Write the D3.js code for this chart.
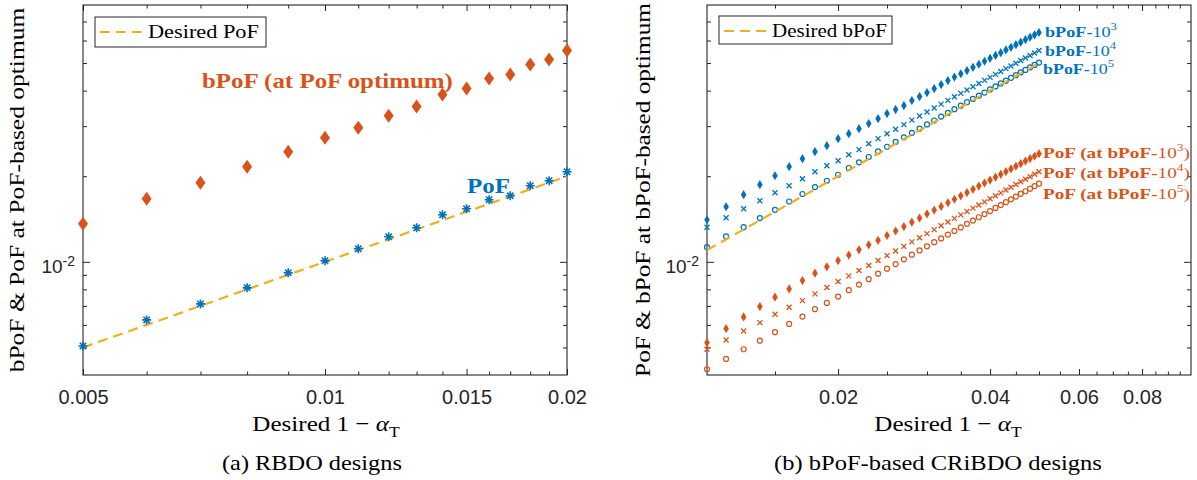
<!DOCTYPE html>
<html><head><meta charset="utf-8">
<script src="https://cdn.jsdelivr.net/npm/d3@7/dist/d3.min.js"></script>
<style>html,body{margin:0;padding:0;background:#fff}svg{display:block}</style>
</head><body>
<svg id="chart" width="1197" height="480"></svg>
<script>
// ---------------- DATA ----------------
const xLeft = [0.005,0.006,0.007,0.008,0.009,0.010,0.011,0.012,0.013,0.014,0.015,0.016,0.017,0.018,0.019,0.020];
const pofLeft = [0.005061,0.006249,0.007114,0.008100,0.009147,0.010081,0.011111,0.012246,0.013174,0.014639,0.015367,0.016533,0.017076,0.018518,0.019287,0.020744];
const bpofLeft = [0.013609,0.016666,0.018976,0.021600,0.024395,0.027333,0.029635,0.032665,0.035136,0.038726,0.040663,0.044104,0.045560,0.049398,0.051444,0.055334];
const desiredPoFX = [0.005,0.020];
const desiredPoFY = [0.005,0.020];

const xRight = [0.011,0.012,0.013,0.014,0.015,0.016,0.017,0.018,0.019,0.020,
  0.021,0.022,0.023,0.024,0.025,0.026,0.027,0.028,0.029,0.030,
  0.031,0.032,0.033,0.034,0.035,0.036,0.037,0.038,0.039,0.040,
  0.041,0.042,0.043,0.044,0.045,0.046,0.047,0.048,0.049,0.050];
const bpof1e3 = [0.01406,0.01562,0.01722,0.01867,0.02008,0.02160,0.02305,0.02439,0.02562,0.02711,
  0.02823,0.02940,0.03062,0.03188,0.03320,0.03430,0.03543,0.03689,0.03811,0.03937,
  0.04067,0.04201,0.04339,0.04463,0.04585,0.04705,0.04828,0.04951,0.05074,0.05194,
  0.05317,0.05440,0.05560,0.05678,0.05800,0.05922,0.06044,0.06163,0.06284,0.06402];
const bpof1e4 = [0.01323,0.01429,0.01537,0.01640,0.01750,0.01852,0.01960,0.02074,0.02178,0.02268,
  0.02381,0.02480,0.02603,0.02711,0.02821,0.02926,0.03037,0.03149,0.03258,0.03366,
  0.03477,0.03586,0.03695,0.03805,0.03911,0.04020,0.04129,0.04238,0.04345,0.04452,
  0.04562,0.04671,0.04778,0.04883,0.04991,0.05102,0.05211,0.05317,0.05426,0.05533];
const bpof1e5 = [0.01126,0.01228,0.01324,0.01425,0.01524,0.01630,0.01732,0.01832,0.01928,0.02024,
  0.02138,0.02238,0.02337,0.02445,0.02539,0.02640,0.02740,0.02841,0.02940,0.03042,
  0.03140,0.03242,0.03340,0.03441,0.03540,0.03641,0.03739,0.03840,0.03938,0.04039,
  0.04137,0.04238,0.04335,0.04436,0.04533,0.04634,0.04731,0.04827,0.04924,0.05020];
const pof1e3 = [0.005196,0.005822,0.006402,0.006961,0.007512,0.008033,0.008594,0.009126,0.009603,0.010106,
  0.010558,0.011022,0.011477,0.011903,0.012375,0.012836,0.013301,0.013785,0.014253,0.014733,
  0.015205,0.015657,0.016133,0.016599,0.017061,0.017526,0.017985,0.018459,0.018929,0.019378,
  0.019838,0.020309,0.020763,0.021222,0.021691,0.022150,0.022604,0.023067,0.023523,0.024004];
const pof1e4 = [0.004927,0.005314,0.005715,0.006113,0.006543,0.006927,0.007306,0.007714,0.008119,0.008523,
  0.008927,0.009320,0.009705,0.010106,0.010516,0.010914,0.011331,0.011751,0.012158,0.012568,
  0.012982,0.013390,0.013797,0.014216,0.014625,0.015035,0.015442,0.015849,0.016251,0.016665,
  0.017076,0.017482,0.017885,0.018294,0.018699,0.019112,0.019503,0.019920,0.020328,0.020744];
const pof1e5 = [0.004190,0.004555,0.004927,0.005283,0.005656,0.006049,0.006418,0.006816,0.007171,0.007548,
  0.007951,0.008320,0.008692,0.009089,0.009464,0.009823,0.010205,0.010593,0.010968,0.011340,
  0.011722,0.012090,0.012468,0.012846,0.013217,0.013599,0.013967,0.014345,0.014723,0.015083,
  0.015467,0.015835,0.016214,0.016584,0.016966,0.017342,0.017709,0.018088,0.018459,0.018821];
const desiredBPoFX = [0.011,0.050];
const desiredBPoFY = [0.011,0.050];

const xMajorLeft = [0.005,0.01,0.015,0.02];
const xLabelsLeft = ["0.005","0.01","0.015","0.02"];
const xMinorLeft = [0.006,0.007,0.008,0.009,0.011,0.012,0.013,0.014,0.016,0.017,0.018,0.019];
const xMajorRight = [0.02,0.04,0.06,0.08];
const xLabelsRight = ["0.02","0.04","0.06","0.08"];
const xMinorRight = [0.015,0.025,0.03,0.035,0.045,0.05,0.055,0.065,0.07,0.075,0.085,0.09,0.095];
const yMajor = [0.01];
const yLabelBase = ["10"];
const yLabelExp = ["-2"];
const yMinor = [0.005,0.006,0.007,0.008,0.009,0.02,0.03,0.04,0.05,0.06,0.07];

// ---------------- STYLE ----------------
const SERIF = "'Liberation Serif','Times New Roman',serif";
const SANS = "'Liberation Sans',Arial,Helvetica,sans-serif";
const BLUE = '#0072BD', ORANGE = '#D95319', YELLOW = '#EDB120', AXIS = '#262626';
const svg = d3.select('#chart');

function label(parent, x, y, parts, o) {
  const g = parent.append('g').attr('transform', `translate(${x},${y})` + (o.rotate ? ` rotate(${o.rotate})` : ''));
  const s = g.append('g');
  const t = s.append('text').attr('font-family', o.family || SERIF).attr('font-size', o.size)
    .attr('fill', o.color || '#000').attr('text-anchor', o.anchor || 'start').style('white-space', 'pre');
  let shift = 0;
  parts.forEach(p => {
    const sp = t.append('tspan').text(p.t);
    if (p.bold) sp.attr('font-weight', 'bold');
    if (p.italic) sp.attr('font-style', 'italic');
    const want = p.sup ? -o.size * 0.42 : p.sub ? o.size * 0.25 : 0;
    if (want !== shift) { sp.attr('dy', want - shift); shift = want; }
    if (p.sup || p.sub) sp.attr('font-size', o.size * 0.7);
  });
  if (o.width) {
    const w = t.node().getBBox().width;
    s.attr('transform', `scale(${o.width / w},1)`);
  }
  return g;
}

function diamondPath(w, h) { return `M0,${-h}L${w},0L0,${h}L${-w},0Z`; }
function starPath(r) { const a = r * 0.7071; return `M0,${-r}V${r}M${-r},0H${r}M${-a},${-a}L${a},${a}M${-a},${a}L${a},${-a}`; }
function crossPath(r) { return `M${-r},${-r}L${r},${r}M${-r},${r}L${r},${-r}`; }

function panel(o) {
  const g = svg.append('g');
  const x = d3.scaleLog().domain(o.xDomain).range([o.x0, o.x1]);
  const y = d3.scaleLog().domain([0.004, 0.08]).range([o.y1, o.y0]);
  const style = sel => {
    sel.select('.domain').remove();
    sel.selectAll('line').attr('stroke', AXIS).attr('stroke-width', 1);
    sel.selectAll('text').attr('fill', AXIS).attr('font-family', SANS).attr('font-size', 20);
  };
  const B = `translate(0,${o.y1})`, T = `translate(0,${o.y0})`, L = `translate(${o.x0},0)`, R = `translate(${o.x1},0)`;
  g.append('g').attr('transform', B).call(d3.axisBottom(x).tickValues(o.xMajor).tickFormat((d, i) => o.xLabels[i]).tickSizeInner(-6).tickSizeOuter(0).tickPadding(15)).call(style);
  g.append('g').attr('transform', B).call(d3.axisBottom(x).tickValues(o.xMinor).tickFormat('').tickSizeInner(-3.5).tickSizeOuter(0)).call(style);
  g.append('g').attr('transform', T).call(d3.axisTop(x).tickValues(o.xMajor).tickFormat('').tickSizeInner(-6).tickSizeOuter(0)).call(style);
  g.append('g').attr('transform', T).call(d3.axisTop(x).tickValues(o.xMinor).tickFormat('').tickSizeInner(-3.5).tickSizeOuter(0)).call(style);
  const ly = g.append('g').attr('transform', L).call(d3.axisLeft(y).tickValues(yMajor).tickFormat('').tickSizeInner(-7).tickSizeOuter(0).tickPadding(8)).call(style);
  ly.selectAll('.tick text').each(function (d, i) {
    const t = d3.select(this).text(null).attr('dy', 11);
    t.append('tspan').text(yLabelBase[i]).attr('font-size', 19);
    t.append('tspan').text(yLabelExp[i]).attr('font-size', 14).attr('dy', -7);
  });
  g.append('g').attr('transform', L).call(d3.axisLeft(y).tickValues(yMinor).tickFormat('').tickSizeInner(-4).tickSizeOuter(0)).call(style);
  g.append('g').attr('transform', R).call(d3.axisRight(y).tickValues(yMajor).tickFormat('').tickSizeInner(-7).tickSizeOuter(0)).call(style);
  g.append('g').attr('transform', R).call(d3.axisRight(y).tickValues(yMinor).tickFormat('').tickSizeInner(-4).tickSizeOuter(0)).call(style);
  g.append('rect').attr('x', o.x0).attr('y', o.y0).attr('width', o.x1 - o.x0).attr('height', o.y1 - o.y0)
    .attr('fill', 'none').attr('stroke', AXIS).attr('stroke-width', 1.1);
  return { g, x, y };
}

// ---------------- LEFT PANEL ----------------
const A = panel({ xDomain: [0.005, 0.02], x0: 83, x1: 567, y0: 5, y1: 375, xMajor: xMajorLeft, xLabels: xLabelsLeft, xMinor: xMinorLeft });
const lineA = d3.line().x(d => A.x(d[0])).y(d => A.y(d[1]));
A.g.append('path').datum(desiredPoFX.map((v, i) => [v, desiredPoFY[i]])).attr('d', lineA)
  .attr('fill', 'none').attr('stroke', YELLOW).attr('stroke-width', 2.2).attr('stroke-dasharray', '10,6');
A.g.selectAll('.bpofL').data(xLeft).enter().append('path')
  .attr('transform', (d, i) => `translate(${A.x(d)},${A.y(bpofLeft[i])})`).attr('d', diamondPath(5, 7)).attr('fill', ORANGE);
A.g.selectAll('.pofL').data(xLeft).enter().append('path')
  .attr('transform', (d, i) => `translate(${A.x(d)},${A.y(pofLeft[i])})`).attr('d', starPath(4.5))
  .attr('fill', 'none').attr('stroke', BLUE).attr('stroke-width', 1.6);

label(svg, 202, 87.5, [{ t: 'bPoF (at PoF optimum)', bold: true }], { size: 21, color: ORANGE, width: 251 });
label(svg, 467, 192.5, [{ t: 'PoF', bold: true }], { size: 21, color: BLUE, width: 43 });
label(svg, 24, 190, [{ t: 'bPoF & PoF at PoF-based optimum' }], { size: 22, rotate: -90, anchor: 'middle', width: 365 });
label(svg, 326, 431, [{ t: 'Desired 1 − ' }, { t: 'α', italic: true }, { t: 'T', sub: true }], { size: 22, anchor: 'middle', width: 148 });
label(svg, 222, 470, [{ t: '(a) RBDO designs' }], { size: 22, width: 180 });
// legend
svg.append('rect').attr('x', 95).attr('y', 17).attr('width', 171).attr('height', 30).attr('fill', '#fff').attr('stroke', AXIS).attr('stroke-width', 1);
svg.append('line').attr('x1', 100).attr('x2', 145).attr('y1', 32).attr('y2', 32).attr('stroke', YELLOW).attr('stroke-width', 2.2).attr('stroke-dasharray', '10,6');
label(svg, 148, 37.5, [{ t: 'Desired PoF' }], { size: 19, width: 111 });

// ---------------- RIGHT PANEL ----------------
const Bp = panel({ xDomain: [0.011, 0.1], x0: 707, x1: 1191, y0: 5, y1: 375, xMajor: xMajorRight, xLabels: xLabelsRight, xMinor: xMinorRight });
function markers(vals, color, kind) {
  const sel = Bp.g.append('g').selectAll('path').data(xRight).enter();
  if (kind === 'o') {
    sel.append('circle').attr('cx', d => Bp.x(d)).attr('cy', (d, i) => Bp.y(vals[i])).attr('r', 2.5)
      .attr('fill', 'none').attr('stroke', color).attr('stroke-width', 1.2);
  } else {
    sel.append('path').attr('transform', (d, i) => `translate(${Bp.x(d)},${Bp.y(vals[i])})`)
      .attr('d', kind === 'd' ? diamondPath(2.8, 4.6) : crossPath(2.5))
      .attr('fill', kind === 'd' ? color : 'none').attr('stroke', kind === 'd' ? 'none' : color).attr('stroke-width', 1.3);
  }
}
markers(bpof1e3, BLUE, 'd');
markers(bpof1e4, BLUE, 'x');
markers(bpof1e5, BLUE, 'o');
markers(pof1e3, ORANGE, 'd');
markers(pof1e4, ORANGE, 'x');
markers(pof1e5, ORANGE, 'o');
const lineB = d3.line().x(d => Bp.x(d[0])).y(d => Bp.y(d[1]));
Bp.g.append('path').datum(desiredBPoFX.map((v, i) => [v, desiredBPoFY[i]])).attr('d', lineB)
  .attr('fill', 'none').attr('stroke', YELLOW).attr('stroke-width', 2.2).attr('stroke-dasharray', '10,6');

label(svg, 1045, 36.5, [{ t: 'bPoF-', bold: true }, { t: '10' }, { t: '3', sup: true }], { size: 15, color: BLUE, width: 72 });
label(svg, 1045, 55.5, [{ t: 'bPoF-', bold: true }, { t: '10' }, { t: '4', sup: true }], { size: 15, color: BLUE, width: 72 });
label(svg, 1043, 73.5, [{ t: 'bPoF-', bold: true }, { t: '10' }, { t: '5', sup: true }], { size: 15, color: BLUE, width: 71 });
label(svg, 1043, 158, [{ t: 'PoF (at bPoF-', bold: true }, { t: '10' }, { t: '3', sup: true }, { t: ')' }], { size: 15.5, color: ORANGE, width: 147 });
label(svg, 1043, 178, [{ t: 'PoF (at bPoF-', bold: true }, { t: '10' }, { t: '4', sup: true }, { t: ')' }], { size: 15.5, color: ORANGE, width: 147 });
label(svg, 1043, 198.5, [{ t: 'PoF (at bPoF-', bold: true }, { t: '10' }, { t: '5', sup: true }, { t: ')' }], { size: 15.5, color: ORANGE, width: 147 });

label(svg, 650, 190, [{ t: 'PoF & bPoF at bPoF-based optimum' }], { size: 22, rotate: -90, anchor: 'middle', width: 374 });
label(svg, 948, 431, [{ t: 'Desired 1 − ' }, { t: 'α', italic: true }, { t: 'T', sub: true }], { size: 22, anchor: 'middle', width: 148 });
label(svg, 774, 470, [{ t: '(b) bPoF-based CRiBDO designs' }], { size: 22, width: 328 });
svg.append('rect').attr('x', 719).attr('y', 16).attr('width', 173).attr('height', 28).attr('fill', '#fff').attr('stroke', AXIS).attr('stroke-width', 1);
svg.append('line').attr('x1', 724).attr('x2', 768).attr('y1', 31).attr('y2', 31).attr('stroke', YELLOW).attr('stroke-width', 2.2).attr('stroke-dasharray', '10,6');
label(svg, 772, 37, [{ t: 'Desired bPoF' }], { size: 19, width: 115 });
</script>
</body></html>
